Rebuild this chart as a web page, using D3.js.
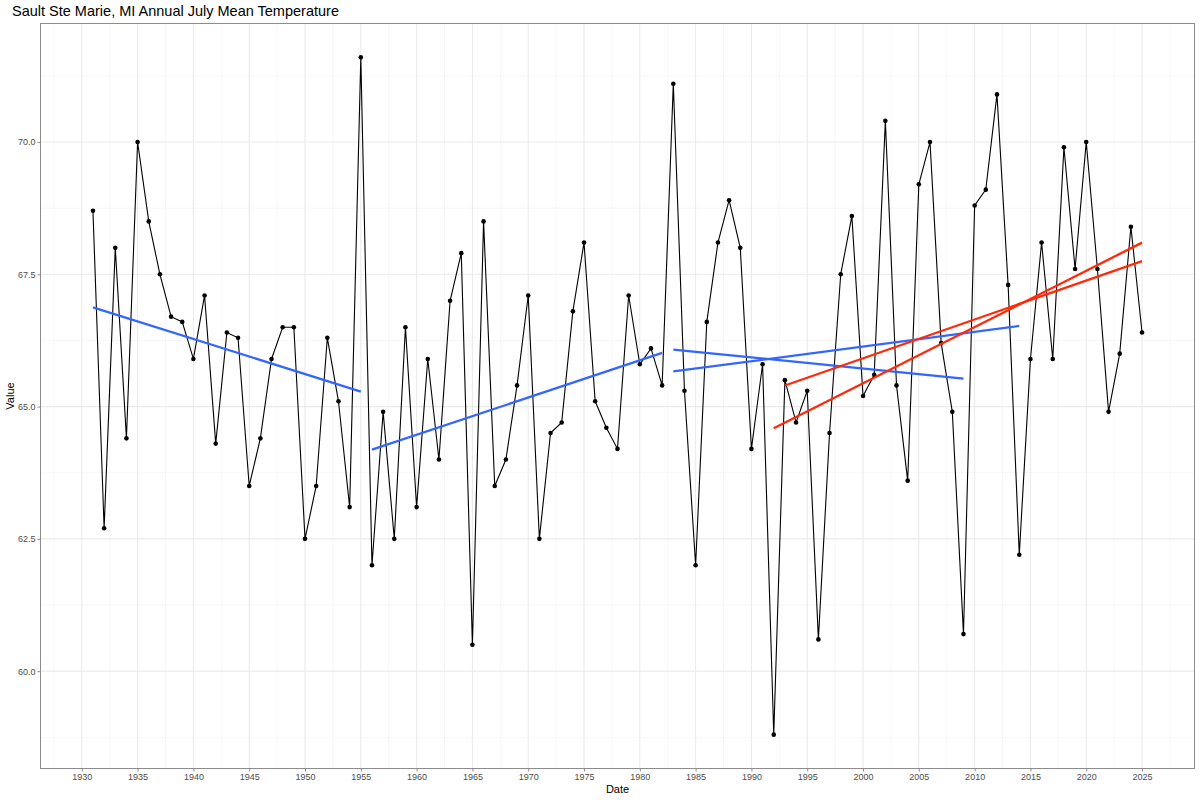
<!DOCTYPE html>
<html>
<head>
<meta charset="utf-8">
<script src="https://cdn.jsdelivr.net/npm/d3@7"></script>
<style>
  body { margin: 0; background: #fff; }
  svg { display: block; font-family: "Liberation Sans", Arial, sans-serif; }
</style>
</head>
<body>
<div id="chart"></div>
<script>
// July mean temperature, one value per year
const years = d3.range(1931, 2026);
const values = [
  68.7, 62.7, 68.0, 64.4, 70.0, 68.5, 67.5, 66.7, 66.6, 65.9, // 1931-1940
  67.1, 64.3, 66.4, 66.3, 63.5, 64.4, 65.9, 66.5, 66.5, 62.5, // 1941-1950
  63.5, 66.3, 65.1, 63.1, 71.6, 62.0, 64.9, 62.5, 66.5, 63.1, // 1951-1960
  65.9, 64.0, 67.0, 67.9, 60.5, 68.5, 63.5, 64.0, 65.4, 67.1, // 1961-1970
  62.5, 64.5, 64.7, 66.8, 68.1, 65.1, 64.6, 64.2, 67.1, 65.8, // 1971-1980
  66.1, 65.4, 71.1, 65.3, 62.0, 66.6, 68.1, 68.9, 68.0, 64.2, // 1981-1990
  65.8, 58.8, 65.5, 64.7, 65.3, 60.6, 64.5, 67.5, 68.6, 65.2, // 1991-2000
  65.6, 70.4, 65.4, 63.6, 69.2, 70.0, 66.2, 64.9, 60.7, 68.8, // 2001-2010
  69.1, 70.9, 67.3, 62.2, 65.9, 68.1, 65.9, 69.9, 67.6, 70.0, // 2011-2020
  67.6, 64.9, 66.0, 68.4, 66.4                                // 2021-2025
];

// trend fits: [first year, last year]
const blueFits = [[1931, 1955], [1956, 1982], [1983, 2009], [1983, 2014]];
const redFits = [[1992, 2025], [1993, 2025]];

const xTicks = d3.range(1930, 2026, 5);
const yTicks = [60.0, 62.5, 65.0, 67.5, 70.0];

const titleText = "Sault Ste Marie, MI Annual July Mean Temperature";

const data = years.map((y, i) => ({ year: y, value: values[i] }));

const width = 1200, height = 800;
const panel = { left: 40.5, right: 1194.5, top: 23.5, bottom: 768.5 };

const svg = d3.select("#chart").append("svg")
  .attr("width", width)
  .attr("height", height);

// ggplot style 5% expansion
const expand = (ext) => {
  const pad = (ext[1] - ext[0]) * 0.05;
  return [ext[0] - pad, ext[1] + pad];
};

const x = d3.scaleLinear()
  .domain(expand(d3.extent(years)))
  .range([panel.left, panel.right]);

const y = d3.scaleLinear()
  .domain(expand(d3.extent(values)))
  .range([panel.bottom, panel.top]);

// grid: minor first, then major
const xMinor = d3.range(1927.5, 2030, 5);
const yMinor = [58.75, 61.25, 63.75, 66.25, 68.75, 71.25];

const grid = svg.append("g");
grid.selectAll(".xminor").data(xMinor).enter().append("line")
  .attr("x1", d => x(d)).attr("x2", d => x(d))
  .attr("y1", panel.top).attr("y2", panel.bottom)
  .attr("stroke", "#f2f2f2").attr("stroke-width", 0.6);
grid.selectAll(".yminor").data(yMinor).enter().append("line")
  .attr("y1", d => y(d)).attr("y2", d => y(d))
  .attr("x1", panel.left).attr("x2", panel.right)
  .attr("stroke", "#f2f2f2").attr("stroke-width", 0.6);
grid.selectAll(".xmajor").data(xTicks).enter().append("line")
  .attr("x1", d => x(d)).attr("x2", d => x(d))
  .attr("y1", panel.top).attr("y2", panel.bottom)
  .attr("stroke", "#ebebeb").attr("stroke-width", 1.1);
grid.selectAll(".ymajor").data(yTicks).enter().append("line")
  .attr("y1", d => y(d)).attr("y2", d => y(d))
  .attr("x1", panel.left).attr("x2", panel.right)
  .attr("stroke", "#ebebeb").attr("stroke-width", 1.1);

// series line + points
const line = d3.line()
  .x(d => x(d.year))
  .y(d => y(d.value));

svg.append("path")
  .datum(data)
  .attr("d", line)
  .attr("fill", "none")
  .attr("stroke", "#000")
  .attr("stroke-width", 1.1);

svg.selectAll(".pt").data(data).enter().append("circle")
  .attr("cx", d => x(d.year))
  .attr("cy", d => y(d.value))
  .attr("r", 2.3)
  .attr("fill", "#000");

// least squares fit over a year span
const fit = (span) => {
  const pts = data.filter(d => d.year >= span[0] && d.year <= span[1]);
  const mx = d3.mean(pts, d => d.year);
  const my = d3.mean(pts, d => d.value);
  const slope = d3.sum(pts, d => (d.year - mx) * (d.value - my)) /
    d3.sum(pts, d => (d.year - mx) * (d.year - mx));
  const b = my - slope * mx;
  return [
    { year: span[0], value: b + slope * span[0] },
    { year: span[1], value: b + slope * span[1] }
  ];
};

const drawFits = (spans, color) => {
  svg.selectAll(null).data(spans).enter().append("path")
    .attr("d", s => line(fit(s)))
    .attr("fill", "none")
    .attr("stroke", color)
    .attr("stroke-width", 2.3);
};
drawFits(blueFits, "#3366FF");
drawFits(redFits, "#FF2A0A");

// panel border
svg.append("rect")
  .attr("x", panel.left).attr("y", panel.top)
  .attr("width", panel.right - panel.left).attr("height", panel.bottom - panel.top)
  .attr("fill", "none")
  .attr("stroke", "#8c8c8c")
  .attr("stroke-width", 1);

// axes
const xAxis = svg.append("g")
  .attr("transform", `translate(0,${panel.bottom})`)
  .call(d3.axisBottom(x).tickValues(xTicks).tickFormat(d3.format("d")).tickSize(3).tickPadding(2));
const yAxis = svg.append("g")
  .attr("transform", `translate(${panel.left},0)`)
  .call(d3.axisLeft(y).tickValues(yTicks).tickFormat(d3.format(".1f")).tickSize(3).tickPadding(2));

[xAxis, yAxis].forEach(a => {
  a.select(".domain").remove();
  a.selectAll(".tick line").attr("stroke", "#8c8c8c");
  a.selectAll(".tick text")
    .attr("fill", "#4d4d4d")
    .style("font-size", "9px")
    .style("font-family", "\"Liberation Sans\", Arial, sans-serif");
});

// titles
svg.append("text")
  .attr("x", 12).attr("y", 16)
  .attr("font-size", "14.5px")
  .attr("fill", "#000")
  .text(titleText);

svg.append("text")
  .attr("x", (panel.left + panel.right) / 2).attr("y", 793)
  .attr("text-anchor", "middle")
  .attr("font-size", "11px")
  .text("Date");

svg.append("text")
  .attr("transform", `translate(14,${(panel.top + panel.bottom) / 2}) rotate(-90)`)
  .attr("text-anchor", "middle")
  .attr("font-size", "11px")
  .text("Value");
</script>
</body>
</html>
